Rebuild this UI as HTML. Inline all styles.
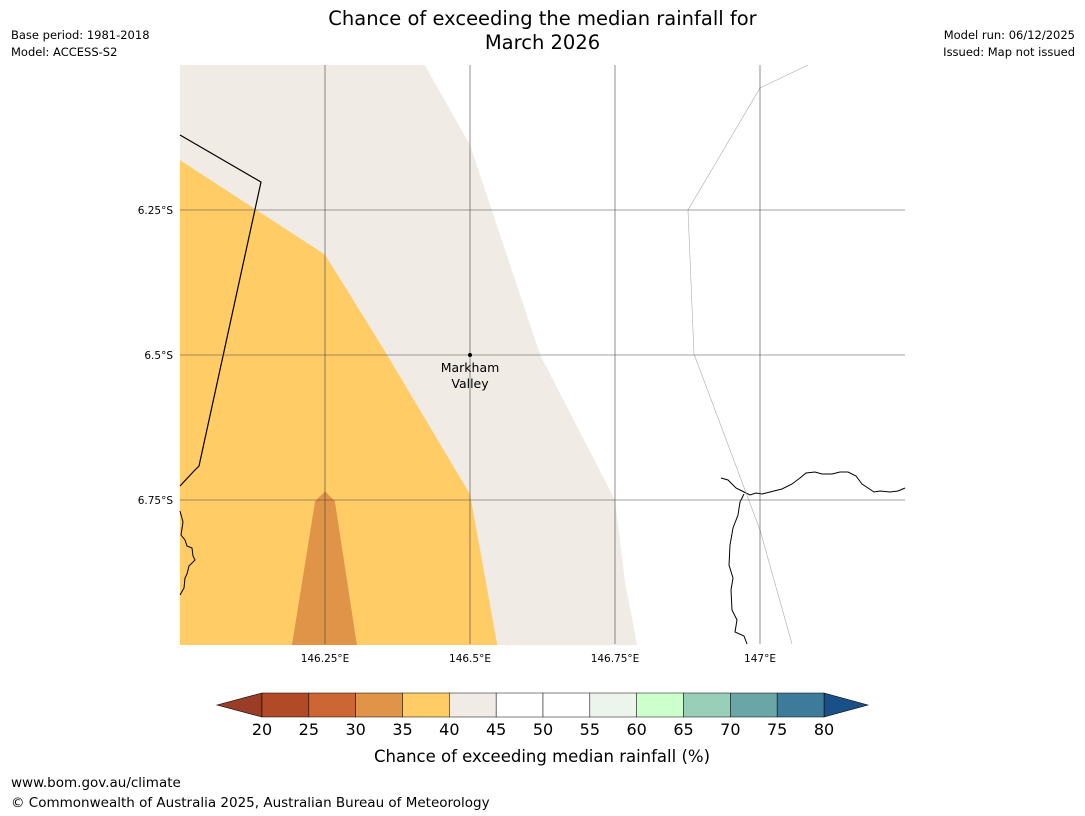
<!DOCTYPE html>
<html><head><meta charset="utf-8"><style>
body{margin:0;background:#fff;width:1085px;height:816px;overflow:hidden;font-family:"Liberation Sans","DejaVu Sans",sans-serif;position:relative}
.t{position:absolute;white-space:nowrap}
</style></head><body>
<div class="t" style="left:0;width:1085px;top:7px;text-align:center;font-size:19.5px;line-height:24px;font-family:'DejaVu Sans',sans-serif">Chance of exceeding the median rainfall for<br>March 2026</div>
<div class="t" style="left:11px;top:27px;font-size:11.5px;line-height:17px;font-family:'DejaVu Sans',sans-serif">Base period: 1981-2018<br>Model: ACCESS-S2</div>
<div class="t" style="right:10px;top:27px;font-size:11.5px;line-height:17px;text-align:right;font-family:'DejaVu Sans',sans-serif">Model run: 06/12/2025<br>Issued: Map not issued</div>
<div class="t" style="left:11px;top:775px;font-size:13.5px;font-family:'DejaVu Sans',sans-serif">www.bom.gov.au/climate</div>
<div class="t" style="left:11px;top:795px;font-size:13.5px;font-family:'DejaVu Sans',sans-serif">© Commonwealth of Australia 2025, Australian Bureau of Meteorology</div>
<svg id="map" width="1085" height="816" style="position:absolute;left:0;top:0" font-family="DejaVu Sans, sans-serif"></svg>
<script>
const lonTicks=[146.25,146.5,146.75,147];
const lonLabels=["146.25°E","146.5°E","146.75°E","147°E"];
const latTicks=[6.25,6.5,6.75];
const latLabels=["6.25°S","6.5°S","6.75°S"];
const cbTicks=[20,25,30,35,40,45,50,55,60,65,70,75,80];
const cbColors=["#b04a27","#cc6633","#e09448","#ffcc66","#f0ebe5","#ffffff","#ffffff","#ebf5eb","#ccffcc","#99ceb8","#6ba6a6","#3e7a99"];
const cbUnder="#9a3d26", cbOver="#1a5088";
const beigePoly=[[146.0,6.0],[146.422,6.0],[146.5,6.138],[146.621,6.5],[146.75,6.75],[146.767,6.89],[146.788,7.0],[146.0,7.0]];
const orangePoly=[[146.0,6.164],[146.25,6.327],[146.353,6.493],[146.5,6.74],[146.547,7.0],[146.0,7.0]];
const darkPoly=[[146.193,7.0],[146.233,6.752],[146.25,6.735],[146.267,6.752],[146.305,7.0]];
const ns="http://www.w3.org/2000/svg";
const svg=document.getElementById('map');
const X=lon=>180+(lon-146)*580, Y=lat=>65+(lat-6)*580;
function el(t,a,p){const e=document.createElementNS(ns,t);for(const k in a)e.setAttribute(k,a[k]);(p||svg).appendChild(e);return e;}
function pts(p){return p.map(q=>X(q[0])+','+Y(q[1])).join(' ');}
const g=el('g',{});
let e;
e=el('polygon',{points:pts(beigePoly),fill:cbColors[4]},g);


e=el('polygon',{points:pts(orangePoly),fill:cbColors[3]},g);


e=el('polygon',{points:pts(darkPoly),fill:cbColors[2]},g);


e=el('polyline',{points:"180,135 261,182 199,466 194,471 180,486",fill:"none",stroke:"#000","stroke-width":1.2});


e=el('polyline',{points:"180,511 183,522 181,535 185,540 187,546 192,548 193,556 195,560 189,566 187,574 185,578 184,588 180,595",fill:"none",stroke:"#000","stroke-width":1});


e=el('polyline',{points:"721,478 728,480 736,488 744,492 750,495 756,493 762,494 770,492 782,489 792,484 800,478 806,473 815,472 822,474 832,474 840,472 848,472 856,476 862,484 868,488 874,492 880,491 890,492 898,491 905,488",fill:"none",stroke:"#000","stroke-width":1});


e=el('polyline',{points:"744,494 740,502 738,515 733,528 730,545 729,565 733,578 731,590 732,610 737,620 735,632 744,636 747,644",fill:"none",stroke:"#000","stroke-width":1});


e=el('polyline',{points:"808,65 760,88 688,210 694,354 760,530 792,644",fill:"none",stroke:"#aaa","stroke-width":0.6});


lonTicks.forEach((v,i)=>{
 const l=el('line',{x1:X(v),x2:X(v),y1:65,y2:644,stroke:"#444","stroke-width":0.6});
 
 
 const t=el('text',{x:X(v),y:662,'text-anchor':'middle','font-size':10.5});t.textContent=lonLabels[i];
 
 
});
latTicks.forEach((v,i)=>{
 const l=el('line',{x1:180,x2:905,y1:Y(v),y2:Y(v),stroke:"#444","stroke-width":0.6});
 
 
 const t=el('text',{x:173,y:Y(v)+4,'text-anchor':'end','font-size':10.5});t.textContent=latLabels[i];
 
 
});
e=el('circle',{cx:X(146.5),cy:Y(6.5),r:2,fill:"#000"});


e=el('text',{x:470,y:372,'text-anchor':'middle','font-size':12.5});e.textContent="Markham";


e=el('text',{x:470,y:388,'text-anchor':'middle','font-size':12.5});e.textContent="Valley";


const cx0=262,cx1=824,cy0=693,cy1=717;
const CX=v=>cx0+(v-cbTicks[0])/(cbTicks[cbTicks.length-1]-cbTicks[0])*(cx1-cx0);
e=el('polygon',{points:`217,705 ${cx0},${cy0} ${cx0},${cy1}`,fill:cbUnder,stroke:"#000","stroke-width":0.6});


e=el('polygon',{points:`868,705 ${cx1},${cy0} ${cx1},${cy1}`,fill:cbOver,stroke:"#000","stroke-width":0.6});


cbColors.forEach((c,i)=>{
 const r=el('rect',{x:CX(cbTicks[i]),y:cy0,width:CX(cbTicks[i+1])-CX(cbTicks[i]),height:cy1-cy0,fill:c,stroke:"#000","stroke-width":0.5});
 
 
});
cbTicks.forEach(v=>{
 const t=el('text',{x:CX(v),y:735,'text-anchor':'middle','font-size':16});t.textContent=v;
 
 
});
e=el('text',{x:542,y:762,'text-anchor':'middle','font-size':16.5});e.textContent="Chance of exceeding median rainfall (%)";


</script>
</body></html>
